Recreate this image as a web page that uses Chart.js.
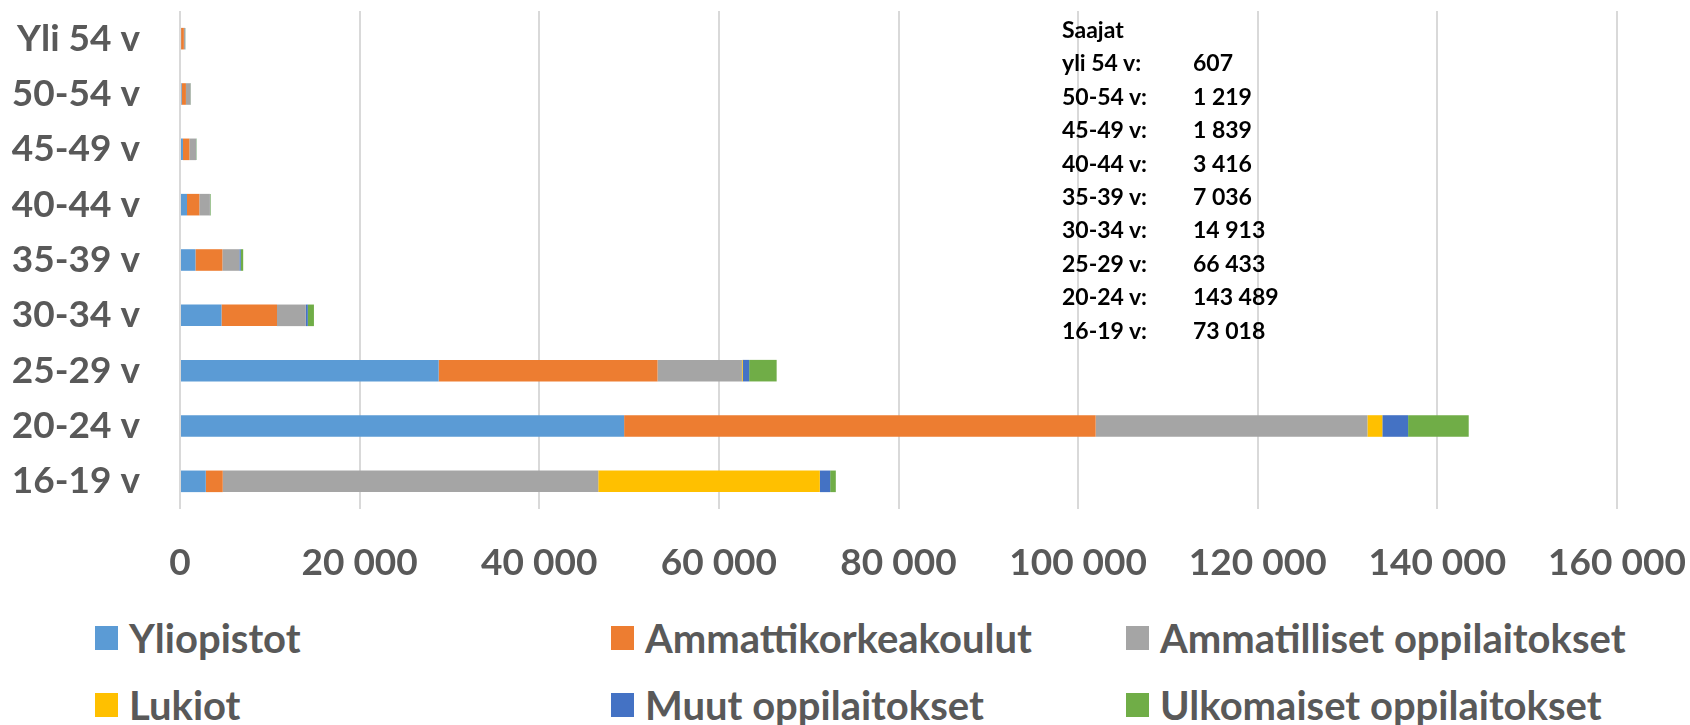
<!DOCTYPE html>
<html>
<head>
<meta charset="utf-8">
<script src="https://cdn.jsdelivr.net/npm/chart.js@4.4.1/dist/chart.umd.min.js"></script>
<style>
  html, body { margin: 0; padding: 0; background: #ffffff; }
  #wrap { position: relative; width: 1690px; height: 725px; overflow: hidden; font-family: Lato, "Open Sans", sans-serif; }
  #chartBox { position: absolute; left: 0; top: 0; width: 1690px; height: 600px; }
  #note { position: absolute; left: 1062px; top: 13px; font-weight: 700; font-size: 23px; color: #000; line-height: 33.4px; }
  #note .row { display: flex; white-space: nowrap; }
  #note .lab { width: 131px; }
  #legend { position: absolute; left: 95px; top: 614px; display: grid; grid-template-columns: 516px 515px auto; row-gap: 19px; }
  #legend .item { display: flex; align-items: center; height: 48px; white-space: nowrap; }
  #legend .box { width: 23px; height: 24px; margin-right: 11px; flex: none; }
  #legend .txt { font-weight: 700; font-size: 40px; color: #595959; line-height: 48px; }
</style>
</head>
<body>
<div id="wrap">
  <div id="chartBox"><canvas id="c" width="1690" height="600"></canvas></div>
  <div id="note"></div>
  <div id="legend"></div>
</div>
<script>
// ---- data ----
const categories = ['Yli 54 v', '50-54 v', '45-49 v', '40-44 v', '35-39 v', '30-34 v', '25-29 v', '20-24 v', '16-19 v'];
const seriesNames = ['Yliopistot', 'Ammattikorkeakoulut', 'Ammatilliset oppilaitokset', 'Lukiot', 'Muut oppilaitokset', 'Ulkomaiset oppilaitokset'];
const yliopistot = [120, 180, 330, 780, 1720, 4620, 28800, 49450, 2870];
const ammattikorkeakoulut = [310, 480, 710, 1370, 3000, 6180, 24370, 52500, 1890];
const ammatilliset = [140, 515, 740, 1180, 1890, 3210, 9400, 30260, 41810];
const lukiot = [0, 0, 0, 0, 0, 0, 80, 1660, 24670];
const muut = [12, 10, 15, 20, 150, 220, 720, 2870, 1150];
const ulkomaiset = [25, 34, 44, 66, 276, 683, 3063, 6750, 630];
const xTicks = [0, 20000, 40000, 60000, 80000, 100000, 120000, 140000, 160000];
const noteTitle = 'Saajat';
const noteLabels = ['yli 54 v:', '50-54 v:', '45-49 v:', '40-44 v:', '35-39 v:', '30-34 v:', '25-29 v:', '20-24 v:', '16-19 v:'];
const noteValues = ['607', '1 219', '1 839', '3 416', '7 036', '14 913', '66 433', '143 489', '73 018'];

const colors = ['#5B9BD5', '#ED7D31', '#A5A5A5', '#FFC000', '#4472C4', '#70AD47'];
const seriesValues = [yliopistot, ammattikorkeakoulut, ammatilliset, lukiot, muut, ulkomaiset];

const fmt = v => String(v).replace(/\B(?=(\d{3})+(?!\d))/g, ' ');
const tickFont = { family: 'Lato', weight: 'bold', size: 37 };

const chart = new Chart(document.getElementById('c'), {
  type: 'bar',
  data: {
    labels: categories,
    datasets: seriesNames.map((n, i) => ({
      label: n,
      data: seriesValues[i],
      backgroundColor: colors[i],
      borderWidth: 0,
      barPercentage: 0.39,
      categoryPercentage: 1.0
    }))
  },
  options: {
    indexAxis: 'y',
    responsive: false,
    animation: false,
    devicePixelRatio: 1,
    layout: { padding: { top: 11, right: 73, left: 0, bottom: 0 } },
    plugins: { legend: { display: false }, tooltip: { enabled: false } },
    scales: {
      x: {
        stacked: true,
        min: 0, max: 160000,
        afterBuildTicks: s => { s.ticks = xTicks.map(v => ({ value: v })); },
        afterFit: s => { s.height = 91; s.paddingLeft = 0; s.paddingRight = 0; },
        grid: { color: '#d9d9d9', lineWidth: 2, drawTicks: false },
        border: { display: false },
        ticks: { color: '#595959', font: tickFont, padding: 32, maxRotation: 0, autoSkip: false, callback: v => fmt(v) }
      },
      y: {
        stacked: true,
        afterFit: s => { s.width = 180; s.paddingTop = 0; s.paddingBottom = 0; },
        grid: { display: false, drawTicks: false },
        border: { display: false },
        ticks: { color: '#595959', font: tickFont, padding: 40 }
      }
    }
  }
});

// annotation text block
const note = document.getElementById('note');
const t = document.createElement('div'); t.className = 'row'; t.textContent = noteTitle; note.appendChild(t);
noteLabels.forEach((l, i) => {
  const r = document.createElement('div'); r.className = 'row';
  const a = document.createElement('span'); a.className = 'lab'; a.textContent = l;
  const b = document.createElement('span'); b.textContent = noteValues[i];
  r.appendChild(a); r.appendChild(b); note.appendChild(r);
});

// legend built from the chart's datasets
const leg = document.getElementById('legend');
chart.data.datasets.forEach(ds => {
  const it = document.createElement('div'); it.className = 'item';
  const bx = document.createElement('span'); bx.className = 'box'; bx.style.background = ds.backgroundColor;
  const tx = document.createElement('span'); tx.className = 'txt'; tx.textContent = ds.label;
  it.appendChild(bx); it.appendChild(tx); leg.appendChild(it);
});
</script>
</body>
</html>
